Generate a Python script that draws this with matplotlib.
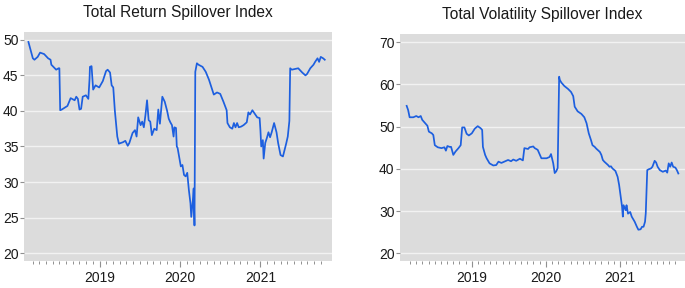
import matplotlib
matplotlib.use("Agg")
import matplotlib.pyplot as plt
from matplotlib import font_manager as fm
import numpy as np

# ---------------- data (decimal years, index values) ----------------
ret_t = [2018.115, 2018.17, 2018.19, 2018.23, 2018.26, 2018.31, 2018.36, 2018.39, 2018.40,
         2018.46, 2018.49, 2018.50, 2018.51, 2018.53, 2018.60, 2018.64, 2018.69, 2018.71,
         2018.73, 2018.75, 2018.77, 2018.79, 2018.83, 2018.86, 2018.875, 2018.88, 2018.90,
         2018.92, 2018.95, 2018.995, 2019.04, 2019.08, 2019.10, 2019.13, 2019.15, 2019.17,
         2019.19, 2019.22, 2019.24, 2019.29, 2019.32, 2019.35, 2019.37, 2019.41, 2019.44,
         2019.46, 2019.48, 2019.51, 2019.53, 2019.55, 2019.57, 2019.59, 2019.61, 2019.63,
         2019.65, 2019.68, 2019.71, 2019.73, 2019.75, 2019.78, 2019.81, 2019.84, 2019.86,
         2019.88, 2019.90, 2019.92, 2019.93, 2019.95, 2019.96, 2019.97, 2020.01, 2020.03,
         2020.05, 2020.07, 2020.09, 2020.11, 2020.13, 2020.14, 2020.16, 2020.17, 2020.18,
         2020.19, 2020.21, 2020.23, 2020.28, 2020.32, 2020.36, 2020.40, 2020.42, 2020.46,
         2020.50, 2020.54, 2020.58, 2020.59, 2020.62, 2020.65, 2020.67, 2020.69, 2020.71,
         2020.73, 2020.76, 2020.79, 2020.83, 2020.85, 2020.87, 2020.90, 2020.93, 2020.96,
         2020.99, 2021.00, 2021.01, 2021.03, 2021.04, 2021.06, 2021.08, 2021.10, 2021.12,
         2021.14, 2021.17, 2021.20, 2021.22, 2021.25, 2021.28, 2021.30, 2021.32, 2021.34,
         2021.36, 2021.37, 2021.39, 2021.43, 2021.47, 2021.52, 2021.56, 2021.58, 2021.62,
         2021.66, 2021.68, 2021.71, 2021.73, 2021.75, 2021.78, 2021.80]
ret_v = [49.7, 47.4, 47.2, 47.6, 48.2, 48.0, 47.4, 47.2, 46.5,
         45.8, 46.0, 46.0, 40.1, 40.2, 40.7, 41.8, 41.5, 42.0,
         41.7, 40.2, 40.3, 42.0, 42.2, 41.7, 44.5, 46.2, 46.3,
         43.0, 43.6, 43.3, 44.2, 45.6, 45.8, 45.4, 43.6, 43.3,
         40.0, 36.4, 35.4, 35.6, 35.8, 35.1, 35.5, 36.9, 37.3,
         36.4, 39.1, 38.0, 38.5, 37.7, 39.4, 41.5, 38.7, 38.5,
         36.6, 37.5, 37.3, 40.2, 38.2, 42.0, 41.3, 40.0, 38.9,
         38.4, 38.0, 36.4, 37.7, 37.6, 35.0, 34.8, 32.2, 32.4,
         31.0, 30.8, 31.3, 28.9, 27.0, 25.1, 27.5, 29.1, 23.9,
         45.5, 46.7, 46.5, 46.2, 45.5, 44.4, 43.0, 42.3, 42.6,
         42.4, 41.3, 40.1, 38.3, 37.7, 37.5, 38.3, 37.7, 38.3,
         37.7, 37.8, 38.0, 38.4, 39.8, 39.5, 40.1, 39.6, 39.1,
         39.0, 37.3, 35.0, 35.9, 33.3, 35.5, 36.2, 37.0, 36.3,
         37.0, 38.3, 37.0, 35.5, 33.8, 33.6, 34.5, 35.4, 36.4,
         38.6, 46.0, 45.8, 45.9, 46.0, 45.4, 45.0, 45.2, 46.0,
         46.5, 46.9, 47.4, 46.9, 47.6, 47.4, 47.2]

vol_t = [2018.12, 2018.14, 2018.16, 2018.21, 2018.25, 2018.28, 2018.31, 2018.33, 2018.37,
         2018.40, 2018.42, 2018.46, 2018.48, 2018.50, 2018.54, 2018.59, 2018.63, 2018.65,
         2018.67, 2018.70, 2018.72, 2018.75, 2018.78, 2018.82, 2018.85, 2018.87, 2018.90,
         2018.93, 2018.96, 2019.00, 2019.04, 2019.08, 2019.12, 2019.14, 2019.15, 2019.18,
         2019.20, 2019.24, 2019.29, 2019.33, 2019.36, 2019.40, 2019.44, 2019.49, 2019.53,
         2019.56, 2019.60, 2019.65, 2019.69, 2019.71, 2019.76, 2019.78, 2019.83, 2019.85,
         2019.89, 2019.92, 2019.94, 2019.98, 2020.01, 2020.05, 2020.07, 2020.10, 2020.12,
         2020.14, 2020.16, 2020.18, 2020.19, 2020.21, 2020.25, 2020.30, 2020.34, 2020.37,
         2020.39, 2020.43, 2020.48, 2020.52, 2020.55, 2020.58, 2020.61, 2020.63, 2020.66,
         2020.68, 2020.73, 2020.75, 2020.77, 2020.79, 2020.84, 2020.86, 2020.88, 2020.90,
         2020.94, 2020.97, 2020.99, 2021.02, 2021.03, 2021.04, 2021.05, 2021.08, 2021.09,
         2021.11, 2021.14, 2021.16, 2021.20, 2021.23, 2021.25, 2021.28, 2021.30, 2021.32,
         2021.34, 2021.35, 2021.37, 2021.39, 2021.42, 2021.44, 2021.47, 2021.49, 2021.51,
         2021.54, 2021.58, 2021.62, 2021.64, 2021.66, 2021.68, 2021.70, 2021.72, 2021.75,
         2021.77, 2021.79]
vol_v = [54.9, 53.9, 52.2, 52.2, 52.5, 52.2, 52.5, 51.6, 50.8,
         50.2, 48.8, 48.4, 48.0, 45.6, 45.1, 44.9, 45.1, 44.3,
         45.4, 45.2, 45.2, 43.3, 44.1, 44.9, 45.6, 49.8, 49.8,
         48.3, 47.9, 48.4, 49.5, 50.1, 49.6, 49.2, 45.2, 43.3,
         42.5, 41.3, 40.8, 40.9, 41.7, 41.4, 41.7, 42.1, 41.8,
         42.2, 41.9, 42.4, 42.0, 44.9, 44.7, 45.1, 45.3, 44.9,
         44.5, 43.3, 42.5, 42.5, 42.5, 42.8, 43.5, 41.3, 39.0,
         39.4, 40.2, 61.8, 61.0, 60.4, 59.6, 58.9, 58.2, 57.2,
         54.7, 53.6, 53.0, 52.2, 50.8, 48.4, 46.8, 45.6, 45.2,
         44.8, 44.0, 43.3, 42.1, 41.7, 40.9, 40.5, 40.6, 40.1,
         39.5, 38.1, 36.2, 32.2, 31.0, 28.7, 31.4, 30.2, 31.4,
         29.4, 29.8, 28.7, 27.5, 26.3, 25.6, 25.7, 26.3, 26.3,
         27.5, 29.5, 39.7, 39.9, 40.1, 40.5, 41.9, 41.5, 40.5,
         39.7, 39.3, 39.6, 39.1, 41.3, 40.5, 41.5, 40.5, 40.3,
         39.7, 38.9]

year_ticks = [2019, 2020, 2021]
year_labels = ["2019", "2020", "2021"]
ret_yticks = [20, 25, 30, 35, 40, 45, 50]
vol_yticks = [20, 30, 40, 50, 60, 70]
titles = ["Total Return Spillover Index", "Total Volatility Spillover Index"]

# ---------------- style ----------------
names = {f.name for f in fm.fontManager.ttflist}
if "Liberation Sans Narrow" in names:
    fam = ["Liberation Sans Narrow", "DejaVu Sans"]
    tsize, lsize = 12.6, 11.6
else:
    fam = ["Liberation Sans", "DejaVu Sans"]
    tsize, lsize = 11.2, 10.0
plt.rcParams["font.family"] = fam

BG = "#dcdcdc"
LINE = "#1d5fdf"

fig = plt.figure(figsize=(6.85, 2.88), dpi=100)
ax1 = fig.add_axes([24/685, 27/288, 308/685, 229/288])
ax2 = fig.add_axes([400/685, 27/288, 285/685, 227/288])

minor = [2018 + m/12 for m in range(2, 12)] + [2019 + m/12 for m in range(1, 12)] + \
        [2020 + m/12 for m in range(1, 12)] + [2021 + m/12 for m in range(1, 10)]

def style(ax, t, v, yticks, ylim, xlim, title):
    ax.set_facecolor(BG)
    for s in ax.spines.values():
        s.set_visible(False)
    ax.plot(t, v, color=LINE, lw=1.25, zorder=3)
    ax.set_xlim(*xlim)
    ax.set_ylim(*ylim)
    ax.set_yticks(yticks)
    ax.set_yticklabels([str(y) for y in yticks])
    ax.set_xticks(year_ticks)
    ax.set_xticklabels(year_labels)
    ax.set_xticks(minor, minor=True)
    ax.yaxis.grid(True, color="#f2f2f2", lw=1.0, zorder=1)
    ax.xaxis.grid(False)
    ax.tick_params(axis="y", length=3.0, width=0.8, color="#909090", pad=1.0,
                   labelsize=lsize, labelcolor="#1a1a1a")
    ax.tick_params(axis="x", which="major", length=4, width=0.8, color="#909090",
                   pad=3.5, labelsize=lsize, labelcolor="#1a1a1a")
    ax.tick_params(axis="x", which="minor", length=2.5, width=0.7, color="#909090")
    ax.set_title(title, fontsize=tsize, color="#1a1a1a", pad=11)

style(ax1, ret_t, ret_v, ret_yticks, (18.9, 51.1), (2018.06, 2021.89), titles[0])
style(ax2, vol_t, vol_v, vol_yticks, (18.2, 71.9), (2018.03, 2021.88), titles[1])

fig.savefig("out.png", dpi=100, facecolor="white")
